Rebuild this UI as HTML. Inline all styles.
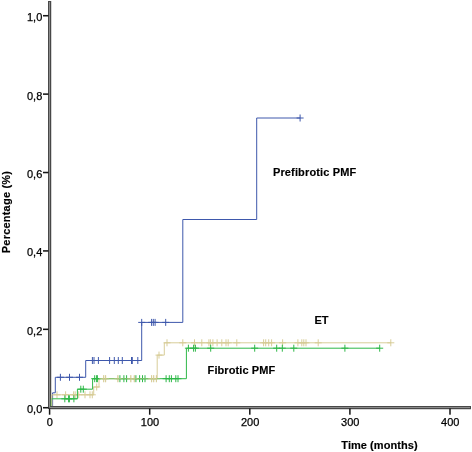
<!DOCTYPE html>
<html><head><meta charset="utf-8"><title>Chart</title>
<style>
html,body{margin:0;padding:0;background:#fff;}
body{width:472px;height:452px;overflow:hidden;font-family:"Liberation Sans",sans-serif;}
svg{display:block;will-change:transform;}
.t{font-family:"Liberation Sans",sans-serif;font-size:11px;fill:#000;stroke:#000;stroke-width:0.25px;}
.b{font-family:"Liberation Sans",sans-serif;font-size:11px;font-weight:bold;fill:#000;stroke:#000;stroke-width:0.15px;}
</style></head><body>
<svg width="472" height="452" viewBox="0 0 472 452">
<rect width="472" height="452" fill="#fff"/>
<rect x="48" y="1" width="3" height="408" fill="#484848"/>
<rect x="48" y="406" width="423" height="3" fill="#484848"/>
<rect x="49" y="2" width="1" height="405.5" fill="#8c8c8c"/>
<rect x="49.5" y="407" width="420.5" height="1" fill="#8c8c8c"/>
<rect x="51" y="1" width="1" height="405" fill="#d4d4d4"/>
<rect x="51" y="409" width="420" height="1" fill="#d4d4d4"/>
<path d="M52.6,406 V392.8 H55.3 V377.3 H85.7 V360.5 H141.7 V322.4 H182.8 V219.5 H256.7 V118 H300.1M60.4,373.8V380.8M56.9,377.3H63.9M69.5,373.8V380.8M66.0,377.3H73.0M79.5,373.8V380.8M76.0,377.3H83.0M92.4,357.0V364.0M88.9,360.5H95.9M94.0,357.0V364.0M90.5,360.5H97.5M98.4,357.0V364.0M94.9,360.5H101.9M109.6,357.0V364.0M106.1,360.5H113.1M114.3,357.0V364.0M110.8,360.5H117.8M118.3,357.0V364.0M114.8,360.5H121.8M122.3,357.0V364.0M118.8,360.5H125.8M131.5,357.0V364.0M128.0,360.5H135.0M132.3,357.0V364.0M128.8,360.5H135.8M137.8,357.0V364.0M134.3,360.5H141.3M141.7,318.9V325.9M138.2,322.4H145.2M151.6,318.9V325.9M148.1,322.4H155.1M153.3,318.9V325.9M149.8,322.4H156.8M155.1,318.9V325.9M151.6,322.4H158.6M165.7,318.9V325.9M162.2,322.4H169.2M300.1,114.5V121.5M296.6,118H303.6" stroke="#3E58AC" fill="none" stroke-width="1.0" opacity="1"/>
<path d="M51.9,406 V394.8 H93.7 V387 H99 V378.7 H157.2 V355.1 H164.3 V342.8 H390.8M57.0,391.3V398.3M53.5,394.8H60.5M65.6,391.3V398.3M62.1,394.8H69.1M73.6,391.3V398.3M70.1,394.8H77.1M75.2,391.3V398.3M71.7,394.8H78.7M78.7,391.3V398.3M75.2,394.8H82.2M85.0,391.3V398.3M81.5,394.8H88.5M90.0,391.3V398.3M86.5,394.8H93.5M92.3,391.3V398.3M88.8,394.8H95.8M96.7,383.5V390.5M93.2,387H100.2M103.7,375.2V382.2M100.2,378.7H107.2M105.6,375.2V382.2M102.1,378.7H109.1M117.9,375.2V382.2M114.4,378.7H121.4M130.8,375.2V382.2M127.3,378.7H134.3M134.3,375.2V382.2M130.8,378.7H137.8M151.6,375.2V382.2M148.1,378.7H155.1M153.7,375.2V382.2M150.2,378.7H157.2M156.4,375.2V382.2M152.9,378.7H159.9M159.0,351.6V358.6M155.5,355.1H162.5M167.0,339.3V346.3M163.5,342.8H170.5M182.8,339.3V346.3M179.3,342.8H186.3M194.5,339.3V346.3M191.0,342.8H198.0M201.8,339.3V346.3M198.3,342.8H205.3M208.9,339.3V346.3M205.4,342.8H212.4M210.4,339.3V346.3M206.9,342.8H213.9M212.9,339.3V346.3M209.4,342.8H216.4M217.1,339.3V346.3M213.6,342.8H220.6M221.8,339.3V346.3M218.3,342.8H225.3M226.0,339.3V346.3M222.5,342.8H229.5M228.2,339.3V346.3M224.7,342.8H231.7M236.8,339.3V346.3M233.3,342.8H240.3M263.6,339.3V346.3M260.1,342.8H267.1M265.7,339.3V346.3M262.2,342.8H269.2M268.7,339.3V346.3M265.2,342.8H272.2M271.6,339.3V346.3M268.1,342.8H275.1M282.6,339.3V346.3M279.1,342.8H286.1M297.9,339.3V346.3M294.4,342.8H301.4M301.8,339.3V346.3M298.3,342.8H305.3M303.8,339.3V346.3M300.3,342.8H307.3M306.0,339.3V346.3M302.5,342.8H309.5M318.2,339.3V346.3M314.7,342.8H321.7M390.8,339.3V346.3M387.3,342.8H394.3" stroke="#D6CA94" fill="none" stroke-width="0.95" opacity="1"/>
<path d="M51.2,406 V398.8 H77.4 V389.2 H92.6 V378.7 H186.4 V348.2 H379.7M64.8,395.3V402.3M61.3,398.8H68.3M68.6,395.3V402.3M65.1,398.8H72.1M69.4,395.3V402.3M65.9,398.8H72.9M73.9,395.3V402.3M70.4,398.8H77.4M80.8,385.7V392.7M77.3,389.2H84.3M83.3,385.7V392.7M79.8,389.2H86.8M94.7,375.2V382.2M91.2,378.7H98.2M96.6,375.2V382.2M93.1,378.7H100.1M97.4,375.2V382.2M93.9,378.7H100.9M119.9,375.2V382.2M116.4,378.7H123.4M123.9,375.2V382.2M120.4,378.7H127.4M126.6,375.2V382.2M123.1,378.7H130.1M135.9,375.2V382.2M132.4,378.7H139.4M139.6,375.2V382.2M136.1,378.7H143.1M142.5,375.2V382.2M139.0,378.7H146.0M145.0,375.2V382.2M141.5,378.7H148.5M166.1,375.2V382.2M162.6,378.7H169.6M169.3,375.2V382.2M165.8,378.7H172.8M171.4,375.2V382.2M167.9,378.7H174.9M175.8,375.2V382.2M172.3,378.7H179.3M178.0,375.2V382.2M174.5,378.7H181.5M188.4,344.7V351.7M184.9,348.2H191.9M193.6,344.7V351.7M190.1,348.2H197.1M195.4,344.7V351.7M191.9,348.2H198.9M210.7,344.7V351.7M207.2,348.2H214.2M254.7,344.7V351.7M251.2,348.2H258.2M276.7,344.7V351.7M273.2,348.2H280.2M282.3,344.7V351.7M278.8,348.2H285.8M293.8,344.7V351.7M290.3,348.2H297.3M344.9,344.7V351.7M341.4,348.2H348.4M379.7,344.7V351.7M376.2,348.2H383.2" stroke="#2EB848" fill="none" stroke-width="1.0" opacity="1"/>
<path d="M99,378.7 H157.2M103.7,375.2V382.2M100.2,378.7H107.2M105.6,375.2V382.2M102.1,378.7H109.1M117.9,375.2V382.2M114.4,378.7H121.4M130.8,375.2V382.2M127.3,378.7H134.3M134.3,375.2V382.2M130.8,378.7H137.8M151.6,375.2V382.2M148.1,378.7H155.1M153.7,375.2V382.2M150.2,378.7H157.2M156.4,375.2V382.2M152.9,378.7H159.9" stroke="#D6CA94" fill="none" stroke-width="1.0" opacity="0.55"/>
<path d="M51.5,406 V395" stroke="#D6CA94" fill="none" stroke-width="1.2" opacity="0.6"/>
<rect x="43" y="14.95" width="5.5" height="1.55" fill="#151515"/>
<text x="42.3" y="21.20" text-anchor="end" class="t">1,0</text>
<rect x="43" y="93.35" width="5.5" height="1.55" fill="#151515"/>
<text x="42.3" y="99.60" text-anchor="end" class="t">0,8</text>
<rect x="43" y="171.75" width="5.5" height="1.55" fill="#151515"/>
<text x="42.3" y="178.00" text-anchor="end" class="t">0,6</text>
<rect x="43" y="250.15" width="5.5" height="1.55" fill="#151515"/>
<text x="42.3" y="256.40" text-anchor="end" class="t">0,4</text>
<rect x="43" y="328.55" width="5.5" height="1.55" fill="#151515"/>
<text x="42.3" y="334.80" text-anchor="end" class="t">0,2</text>
<rect x="43" y="406.95" width="5.5" height="1.55" fill="#151515"/>
<text x="42.3" y="413.20" text-anchor="end" class="t">0,0</text>
<rect x="48.85" y="408.5" width="1.5" height="6.2" fill="#151515"/>
<text x="49.90" y="425.8" text-anchor="middle" class="t">0</text>
<rect x="148.95" y="408.5" width="1.5" height="6.2" fill="#151515"/>
<text x="150.00" y="425.8" text-anchor="middle" class="t">100</text>
<rect x="249.05" y="408.5" width="1.5" height="6.2" fill="#151515"/>
<text x="250.10" y="425.8" text-anchor="middle" class="t">200</text>
<rect x="349.15" y="408.5" width="1.5" height="6.2" fill="#151515"/>
<text x="350.20" y="425.8" text-anchor="middle" class="t">300</text>
<rect x="449.25" y="408.5" width="1.5" height="6.2" fill="#151515"/>
<text x="450.30" y="425.8" text-anchor="middle" class="t">400</text>
<text x="272.9" y="175.8" class="b" textLength="83.4" lengthAdjust="spacing">Prefibrotic PMF</text>
<text x="314.4" y="323.8" class="b">ET</text>
<text x="207.6" y="373.8" class="b" textLength="67.6" lengthAdjust="spacing">Fibrotic PMF</text>
<text x="341.3" y="448.6" class="b" textLength="76.3" lengthAdjust="spacing">Time (months)</text>
<text transform="translate(9.6,253.2) rotate(-90)" class="b" textLength="82.2" lengthAdjust="spacing">Percentage (%)</text>
</svg>
</body></html>
